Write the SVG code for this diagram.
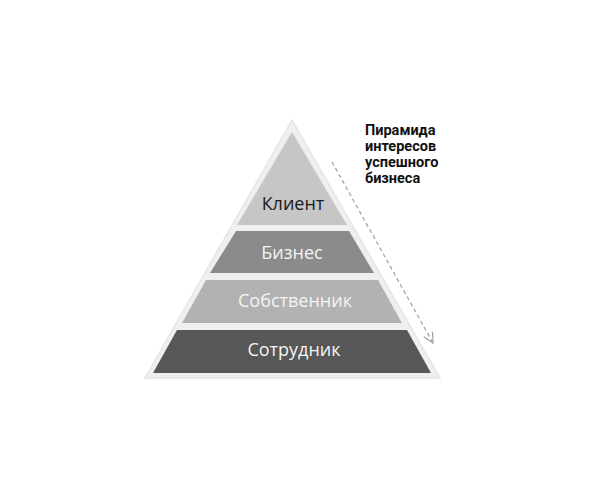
<svg xmlns="http://www.w3.org/2000/svg" width="591" height="500" viewBox="0 0 591 500">
  <defs>
    <style>
      .lbl { font-family: "Open Sans", "Liberation Sans", sans-serif; font-size: 18px; text-anchor: middle; }
      .light { fill: #f4f4f4; }
      .dark { fill: #1a1a1a; }
      .title { font-family: Roboto, "Liberation Sans", sans-serif; font-weight: 700; font-size: 14.5px; fill: #111; }
      .conn { fill: none; stroke: #a0a0a0; stroke-width: 1.2; }
    </style>
    <marker id="arr" viewBox="0 0 12 12" refX="11" refY="6" markerWidth="12" markerHeight="12" markerUnits="userSpaceOnUse" orient="auto">
      <path d="M1,1 L11,6 L1,11" fill="none" stroke="#a0a0a0" stroke-width="1.2"/>
    </marker>
  </defs>
  <rect width="591" height="500" fill="#ffffff"/>
  <g id="base">
    <polygon points="292,120 145,378 440,378" fill="#efefef" stroke="#e6e6e6" stroke-width="1.5"/>
  </g>
  <g id="node-klient">
    <polygon points="292,132 237,225 347,225" fill="#c6c6c6"/>
    <text class="lbl dark" x="293" y="210">Клиент</text>
  </g>
  <g id="node-biznes">
    <polygon points="236,231 349,231 374,273 210,273" fill="#8b8b8b"/>
    <text class="lbl light" x="292" y="259">Бизнес</text>
  </g>
  <g id="node-sobstvennik">
    <polygon points="206,280 378,280 402,323 182,323" fill="#b2b2b2"/>
    <text class="lbl light" x="295" y="307">Собственник</text>
  </g>
  <g id="node-sotrudnik">
    <polygon points="177,330 407,330 431,373 153,373" fill="#575757"/>
    <text class="lbl light" x="294" y="356">Сотрудник</text>
  </g>
  <g id="node-title">
    <text class="title" x="365" y="135"><tspan x="365" y="135">Пирамида</tspan><tspan x="365" y="151">интересов</tspan><tspan x="365" y="167">успешного</tspan><tspan x="365" y="183">бизнеса</tspan></text>
  </g>
  <g id="connectors">
    <path class="conn" d="M332,162 L433,343" stroke-dasharray="4 3" marker-end="url(#arr)"/>
  </g>
</svg>
